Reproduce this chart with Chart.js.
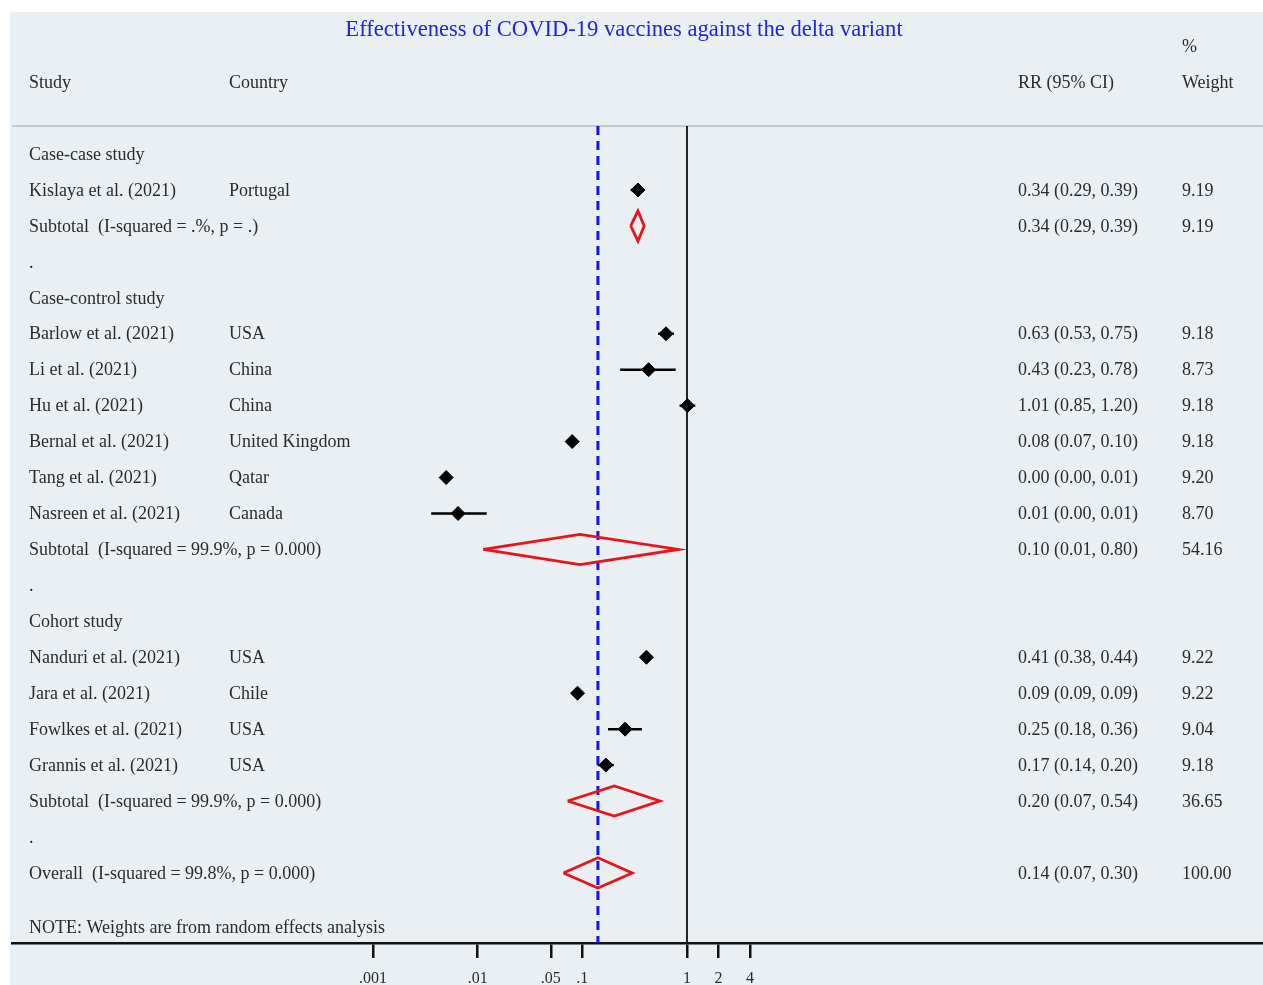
<!DOCTYPE html>
<html>
<head>
<meta charset="utf-8">
<script src="https://cdn.jsdelivr.net/npm/chart.js@4"></script>
<style>
  body { margin: 0; background: #fff; }
</style>
</head>
<body>
<canvas id="forest" width="1263" height="985"></canvas>
<script>
// rows are counted from the top of the plot, one row per line of text
const groupRows = [0, 4, 13];
const groupNames = ["Case-case study", "Case-control study", "Cohort study"];
const dotRows = [3, 12, 19];

const studyRows = [1, 5, 6, 7, 8, 9, 10, 14, 15, 16, 17];
const studyNames = [
  "Kislaya et al. (2021)", "Barlow et al. (2021)", "Li et al. (2021)", "Hu et al. (2021)",
  "Bernal et al. (2021)", "Tang et al. (2021)", "Nasreen et al. (2021)", "Nanduri et al. (2021)",
  "Jara et al. (2021)", "Fowlkes et al. (2021)", "Grannis et al. (2021)"
];
const countries = ["Portugal", "USA", "China", "China", "United Kingdom", "Qatar", "Canada", "USA", "Chile", "USA", "USA"];
const studyRR = [0.34, 0.63, 0.43, 1.01, 0.08, 0.005, 0.0065, 0.41, 0.09, 0.256, 0.168];
const studyLow = [0.29, 0.53, 0.23, 0.85, 0.075, 0.0045, 0.0036, 0.38, 0.088, 0.176, 0.14];
const studyHigh = [0.39, 0.75, 0.78, 1.20, 0.09, 0.0055, 0.0122, 0.44, 0.092, 0.371, 0.20];
const studyText = [
  "0.34 (0.29, 0.39)", "0.63 (0.53, 0.75)", "0.43 (0.23, 0.78)", "1.01 (0.85, 1.20)",
  "0.08 (0.07, 0.10)", "0.00 (0.00, 0.01)", "0.01 (0.00, 0.01)", "0.41 (0.38, 0.44)",
  "0.09 (0.09, 0.09)", "0.25 (0.18, 0.36)", "0.17 (0.14, 0.20)"
];
const studyWeights = ["9.19", "9.18", "8.73", "9.18", "9.18", "9.20", "8.70", "9.22", "9.22", "9.04", "9.18"];

const poolRows = [2, 11, 18, 20];
const poolNames = [
  "Subtotal  (I-squared = .%, p = .)",
  "Subtotal  (I-squared = 99.9%, p = 0.000)",
  "Subtotal  (I-squared = 99.9%, p = 0.000)",
  "Overall  (I-squared = 99.8%, p = 0.000)"
];
const poolRR = [0.34, 0.095, 0.202, 0.141];
const poolLow = [0.29, 0.0113, 0.0724, 0.066];
const poolHigh = [0.39, 0.83, 0.552, 0.30];
const poolText = ["0.34 (0.29, 0.39)", "0.10 (0.01, 0.80)", "0.20 (0.07, 0.54)", "0.14 (0.07, 0.30)"];
const poolWeights = ["9.19", "54.16", "36.65", "100.00"];

const tickValues = [0.001, 0.01, 0.05, 0.1, 1, 2, 4];
const tickLabels = [".001", ".01", ".05", ".1", "1", "2", "4"];

const overallRR = 0.141;
const noteText = "NOTE: Weights are from random effects analysis";
const titleText = "Effectiveness of COVID-19 vaccines against the delta variant";

const xMin = Math.pow(10, -6.449);
const xMax = Math.pow(10, 5.494);
const yMin = -0.78;
const yMax = 21.95;
const halfDiamond = 0.42;

const serif = '"Liberation Serif", "Times New Roman", serif';
const textColor = "#2b2b2b";

const datasets = [];

// point estimates (drawn on top)
datasets.push({
  data: studyRows.map((r, i) => ({ x: studyRR[i], y: r })),
  pointStyle: "rectRot",
  pointRadius: 7,
  backgroundColor: "#000",
  borderColor: "#000",
  borderWidth: 1,
  showLine: false,
  order: 0,
});

// confidence intervals
studyRows.forEach((r, i) => {
  datasets.push({
    data: [{ x: studyLow[i], y: r }, { x: studyHigh[i], y: r }],
    showLine: true,
    borderColor: "#000",
    borderWidth: 2.5,
    pointRadius: 0,
    order: 2,
  });
});

// pooled diamonds
poolRows.forEach((r, i) => {
  datasets.push({
    data: [
      { x: poolLow[i], y: r },
      { x: poolRR[i], y: r - halfDiamond },
      { x: poolHigh[i], y: r },
      { x: poolRR[i], y: r + halfDiamond },
      { x: poolLow[i], y: r },
    ],
    showLine: true,
    borderColor: "#e8141a",
    borderWidth: 2.8,
    pointRadius: 0,
    tension: 0,
    order: 1,
  });
});

// line of no effect
datasets.push({
  data: [{ x: 1, y: yMin }, { x: 1, y: yMax }],
  showLine: true,
  borderColor: "#222",
  borderWidth: 2,
  pointRadius: 0,
  order: 4,
});

// overall effect line
datasets.push({
  data: [{ x: overallRR, y: yMin }, { x: overallRR, y: yMax }],
  showLine: true,
  borderColor: "#1414e6",
  borderWidth: 3,
  borderDash: [9, 6],
  pointRadius: 0,
  order: 3,
});

const tablePlugin = {
  id: "table",
  beforeDraw(chart) {
    const { ctx, chartArea } = chart;
    ctx.save();
    ctx.fillStyle = "#e9eff3";
    ctx.fillRect(10, 12, chart.width - 10, chart.height - 12);
    ctx.strokeStyle = "#c3c8cc";
    ctx.lineWidth = 2;
    ctx.beginPath();
    ctx.moveTo(12, chartArea.top);
    ctx.lineTo(chart.width, chartArea.top);
    ctx.stroke();
    ctx.restore();
  },
  afterDraw(chart) {
    const { ctx } = chart;
    const y = chart.scales.y;
    const rowY = (r) => y.getPixelForValue(r) + 1;
    ctx.save();
    ctx.textBaseline = "middle";

    ctx.font = "22.6px " + serif;
    ctx.fillStyle = "#2424dc";
    ctx.textAlign = "center";
    ctx.fillText(titleText, 624, 30);

    ctx.font = "18px " + serif;
    ctx.fillStyle = textColor;
    ctx.textAlign = "left";
    ctx.fillText("Study", 29, 83);
    ctx.fillText("Country", 229, 83);
    ctx.fillText("RR (95% CI)", 1018, 83);
    ctx.fillText("%", 1182, 47);
    ctx.fillText("Weight", 1182, 83);

    groupRows.forEach((r, i) => ctx.fillText(groupNames[i], 29, rowY(r)));
    dotRows.forEach((r) => ctx.fillText(".", 29, rowY(r)));
    studyRows.forEach((r, i) => {
      const py = rowY(r);
      ctx.fillText(studyNames[i], 29, py);
      ctx.fillText(countries[i], 229, py);
      ctx.fillText(studyText[i], 1018, py);
      ctx.fillText(studyWeights[i], 1182, py);
    });
    poolRows.forEach((r, i) => {
      const py = rowY(r);
      ctx.fillText(poolNames[i], 29, py);
      ctx.fillText(poolText[i], 1018, py);
      ctx.fillText(poolWeights[i], 1182, py);
    });
    ctx.fillText(noteText, 29, rowY(21.5));
    ctx.restore();
  },
};

new Chart(document.getElementById("forest"), {
  type: "scatter",
  data: { datasets },
  options: {
    responsive: false,
    animation: false,
    layout: { autoPadding: false, padding: { left: 12, right: 1, top: 126, bottom: 0 } },
    plugins: { legend: { display: false }, tooltip: { enabled: false } },
    scales: {
      x: {
        type: "logarithmic",
        position: "bottom",
        min: xMin,
        max: xMax,
        afterBuildTicks: (scale) => {
          scale.ticks = tickValues.map((v) => ({ value: v }));
        },
        afterFit: (scale) => {
          scale.height = 42;
        },
        border: { display: true, color: "#111", width: 2.5 },
        grid: { drawOnChartArea: false, drawTicks: true, tickLength: 15, color: "#111", lineWidth: 2.5 },
        ticks: {
          autoSkip: false,
          maxRotation: 0,
          padding: 11,
          color: textColor,
          font: { family: serif, size: 16 },
          callback: (v, i) => tickLabels[i],
        },
      },
      y: {
        type: "linear",
        display: false,
        reverse: true,
        min: yMin,
        max: yMax,
      },
    },
  },
  plugins: [tablePlugin],
});
</script>
</body>
</html>
